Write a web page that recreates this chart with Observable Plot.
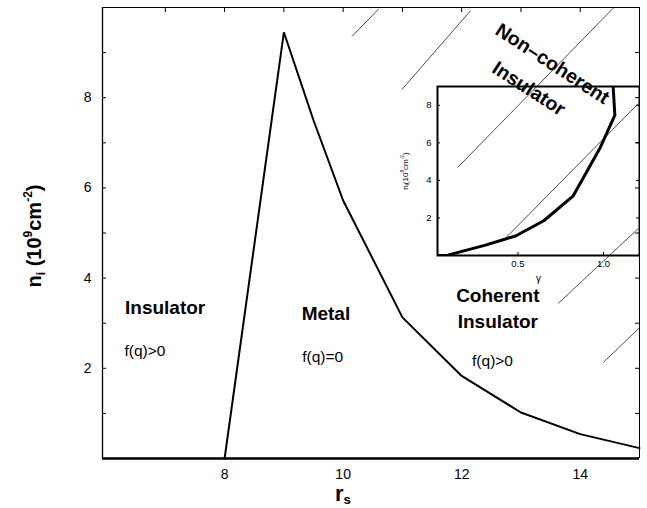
<!DOCTYPE html>
<html><head><meta charset="utf-8">
<script src="https://cdn.jsdelivr.net/npm/d3@7"></script>
<script src="https://cdn.jsdelivr.net/npm/@observablehq/plot@0.6"></script>
<style>
body{margin:0;background:#fff;}
#wrap{position:relative;width:647px;height:508px;font-family:"Liberation Sans",Arial,Helvetica,sans-serif;color:#000;overflow:hidden;}
#wrap svg{position:absolute;}
.lbl{position:absolute;white-space:nowrap;color:#000;}
.sup{position:relative;font-size:0.6em;top:-0.75em;}
.sub{position:relative;font-size:0.6em;top:0.3em;}
</style></head><body><div id="wrap"></div>
<script>
// ---- data ----
const rs = [8, 9, 9.5, 10, 11, 12, 13, 14, 15];
const ni = [0, 9.45, 7.5, 5.72, 3.13, 1.83, 1.02, 0.54, 0.23];
const gamma = [0.03, 0.09, 0.31, 0.486, 0.651, 0.823, 0.982, 1.066, 1.053];
const niInset = [0, 0.02, 0.55, 1.04, 1.85, 3.18, 5.77, 7.48, 9.45];
const xDomain = [5.94, 15.0];
const yDomain = [0, 10];
const xTickLabels = [8, 10, 12, 14];
const yTickLabels = [2, 4, 6, 8];
const xMinorTicks = [7, 8, 9, 10, 11, 12, 13, 14];
const yMinorTicks = [1, 2, 3, 4, 5, 6, 7, 8, 9];
const insetXDomain = [0.03, 1.21];
const insetYDomain = [0, 9];
const insetXTicks = [0.5, 1.0];
const insetYTicks = [2, 4, 6, 8];
// hatching of the non-coherent region (endpoints in rs, n units)
const hatchRs1 = [10.15, 10.99, 11.93, 12.75, 13.63, 14.39];
const hatchN1  = [9.36, 8.18, 6.45, 4.90, 3.44, 2.13];
const hatchRs2 = [10.60, 12.15, 14.56, 14.98, 14.98, 15.0];
const hatchN2  = [9.97, 9.93, 9.99, 7.87, 5.10, 2.90];
// region labels
const regionText = ["Insulator", "f(q)>0", "Metal", "f(q)=0", "Coherent", "Insulator", "f(q)>0"];
const regionRs   = [6.32, 6.31, 9.30, 9.31, 12.61, 12.61, 12.52];
const regionN    = [3.35, 2.39, 3.21, 2.25, 3.61, 3.02, 2.17];
const noncoText = ["Non–coherent", "Insulator"];
const noncoRs   = [13.53, 13.13];
const noncoN    = [8.75, 8.20];

const FONT = '"Liberation Sans", Arial, Helvetica, sans-serif';
const W = 647, H = 508, mL = 102, mR = 8, mT = 7, mB = 50;
const iw = W - mL - mR, ih = H - mT - mB;

function label(i, bold, anchor) {
  return Plot.text([0], {x: [regionRs[i]], y: [regionN[i]], text: [regionText[i]],
    fontSize: bold ? 19 : 15.5, fontWeight: bold ? "bold" : "normal", textAnchor: anchor, fill: "black"});
}

const hi = d3.range(hatchRs1.length);
const main = Plot.plot({
  width: W, height: H, marginLeft: mL, marginRight: mR, marginTop: mT, marginBottom: mB,
  style: {fontFamily: FONT, fontSize: "14px", background: "white", color: "black"},
  x: {domain: xDomain, label: null},
  y: {domain: yDomain, label: null},
  marks: [
    Plot.link(hi, {x1: i => hatchRs1[i], y1: i => hatchN1[i], x2: i => hatchRs2[i], y2: i => hatchN2[i], stroke: "#222", strokeWidth: 0.8}),
    Plot.ruleY(yMinorTicks, {insetRight: iw - 4, stroke: "black"}),
    Plot.ruleY(yMinorTicks, {insetLeft: iw - 4, stroke: "black"}),
    Plot.ruleX(xMinorTicks, {insetBottom: ih - 5, stroke: "black"}),
    Plot.ruleY([yDomain[1]], {stroke: "black", strokeWidth: 1}),
    Plot.ruleX([xDomain[1]], {stroke: "black", strokeWidth: 1}),
    Plot.ruleX([xDomain[0]], {stroke: "black", strokeWidth: 1.3}),
    Plot.ruleY([yDomain[0]], {stroke: "black", strokeWidth: 2.5}),
    Plot.line(rs, {x: rs, y: ni, stroke: "black", strokeWidth: 2, strokeLinejoin: "miter"}),
    Plot.axisX({ticks: xTickLabels, tickSize: 0, tickPadding: 11, fontSize: 14, label: null}),
    Plot.axisY({ticks: yTickLabels, tickSize: 0, tickPadding: 11, fontSize: 14, label: null}),
    label(0, true, "start"), label(1, false, "start"),
    label(2, true, "start"), label(3, false, "start"),
    label(4, true, "middle"), label(5, true, "middle"), label(6, false, "middle"),
    Plot.text(noncoText, {x: noncoRs, y: noncoN, text: noncoText, rotate: 33, fontSize: 19.5, fontWeight: "bold", fill: "black"})
  ]
});

const inset = Plot.plot({
  width: 243, height: 200, marginLeft: 40, marginRight: 1, marginTop: 1, marginBottom: 30,
  style: {fontFamily: FONT, fontSize: "9.5px", background: "transparent", color: "black"},
  x: {domain: insetXDomain, label: null},
  y: {domain: insetYDomain, label: null},
  marks: [
    Plot.ruleY(insetYTicks, {insetRight: 202 - 3, stroke: "black"}),
    Plot.ruleY(insetYTicks, {insetLeft: 202 - 3, stroke: "black"}),
    Plot.ruleX(insetXTicks, {insetTop: 169 - 3, stroke: "black"}),
    Plot.line(gamma, {x: gamma, y: niInset, stroke: "black", strokeWidth: 3, clip: true}),
    Plot.frame({stroke: "black", strokeWidth: 2}),
    Plot.axisX({ticks: insetXTicks, tickSize: 0, tickPadding: 5, tickFormat: d3.format(".1f"), label: null}),
    Plot.axisY({ticks: insetYTicks, tickSize: 0, tickPadding: 6, label: null}),
    Plot.text(["γ"], {frameAnchor: "bottom", dy: 26, text: d => d, fontSize: 10, fill: "black"})
  ]
});

const wrap = document.getElementById("wrap");
main.style.left = "0px"; main.style.top = "0px";
inset.style.left = "397px"; inset.style.top = "85px";
wrap.appendChild(main);
wrap.appendChild(inset);

function addLabel(html, css) {
  const d = document.createElement("div");
  d.className = "lbl";
  d.innerHTML = html;
  Object.assign(d.style, css);
  wrap.appendChild(d);
}
addLabel('n<span class="sub">i</span> (10<span class="sup">9</span>cm<span class="sup">-2</span>)',
  {left: "35px", top: "236px", fontSize: "20px", fontWeight: "bold", lineHeight: "20px",
   transform: "translate(-50%,-50%) rotate(-90deg)"});
addLabel('r<span class="sub">s</span>',
  {left: "343px", top: "486.5px", fontSize: "22px", fontWeight: "bold", lineHeight: "14px",
   transform: "translateX(-50%)"});
addLabel('n<span class="sub">i</span>(10<span class="sup">9</span>cm<span class="sup">-2</span>)',
  {left: "406px", top: "171px", fontSize: "8px", lineHeight: "8px",
   transform: "translate(-50%,-50%) rotate(-90deg)"});
</script></body></html>
